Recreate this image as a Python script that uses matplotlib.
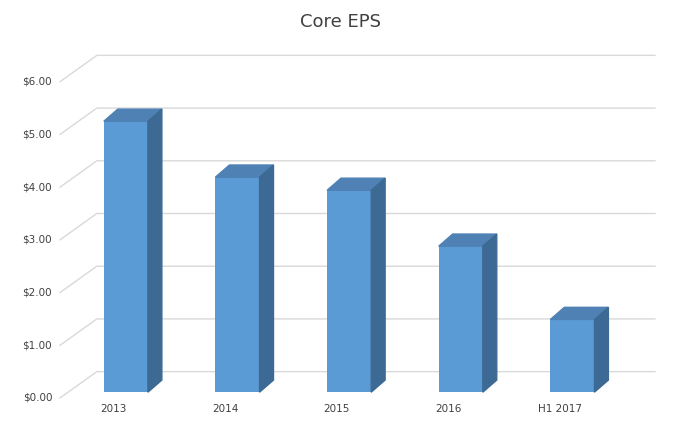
import matplotlib.pyplot as plt
from matplotlib.patches import Polygon

categories = ["2013", "2014", "2015", "2016", "H1 2017"]
eps_values = [5.14, 4.08, 3.83, 2.77, 1.38]
tick_values = [0, 1, 2, 3, 4, 5, 6]
tick_labels = ["$0.00", "$1.00", "$2.00", "$3.00", "$4.00", "$5.00", "$6.00"]

front = "#5B9BD5"
top_col = "#4F81B5"
side_col = "#3D6A94"
grid_col = "#D9D9D9"

fig = plt.figure(figsize=(6.82, 4.34), dpi=100)
ax = fig.add_axes([60 / 682, 36 / 434, 595 / 682, 369 / 434])
ax.set_xlim(-0.59, 4.74)
ax.set_ylim(0, 7)
ax.axis("off")

# depth offsets (data units)
wall_dx, wall_dy = 0.33, 0.50
bar_dx, bar_dy = 0.125, 0.23
base = 0.11
width = 0.395

for v in tick_values:
    ax.plot([-0.59, -0.59 + wall_dx, 4.74], [v, v + wall_dy, v + wall_dy],
            color=grid_col, lw=1, clip_on=False, zorder=0)

for i, (cat, v) in enumerate(zip(categories, eps_values)):
    x0 = i - width / 2
    x1 = i + width / 2
    ax.bar(i, v, width=width, bottom=base, color=front, zorder=2)
    ax.add_patch(Polygon([(x0, base + v), (x1, base + v),
                          (x1 + bar_dx, base + v + bar_dy), (x0 + bar_dx, base + v + bar_dy)],
                         closed=True, color=top_col, zorder=2, clip_on=False))
    ax.add_patch(Polygon([(x1, base), (x1 + bar_dx, base + bar_dy),
                          (x1 + bar_dx, base + v + bar_dy), (x1, base + v)],
                         closed=True, color=side_col, zorder=2, clip_on=False))
    ax.text(i - 0.11, -0.12, cat, ha="center", va="top", fontsize=7.5, color="#404040")

for v, lab in zip(tick_values, tick_labels):
    ax.text(-0.66, v, lab, ha="right", va="center", fontsize=7.5, color="#404040")

fig.text(0.5, 1 - 22 / 434, "Core EPS", ha="center", va="center", fontsize=13, color="#404040")

fig.savefig("out.png", dpi=100)
